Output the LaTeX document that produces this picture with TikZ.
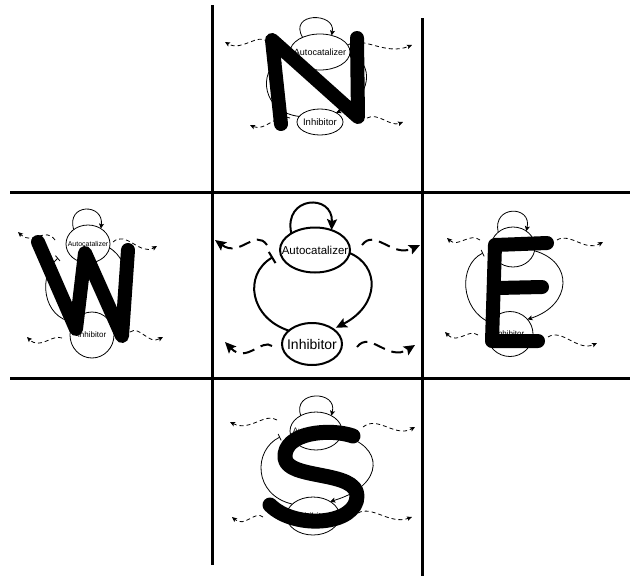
\documentclass[tikz,border=0pt]{standalone}
\usepackage{fontspec}
\setmainfont{Liberation Sans}
\usetikzlibrary{arrows.meta,shapes.geometric}
\newcommand\wavearrow[6]{\coordinate (#1s) at #3; \coordinate (#1e) at #6; \draw[#2] (#1s) .. controls #4 and #5 .. (#1e);}
\newcommand\fs[1]{\fontsize{#1}{#1}\selectfont}
\begin{document}
\begin{tikzpicture}[x=1pt,y=-1pt,
  gridline/.style={line width=3pt},
  bell/.style={draw, ellipse, line width=2pt, inner sep=0pt, outer sep=0pt},
  sell/.style={draw, ellipse, line width=0.8pt, inner sep=0pt, outer sep=0pt},
  bact/.style={line width=2pt, -{Stealth[length=11pt,width=10pt,inset=2pt]}},
  binh/.style={line width=2pt, -{Bar[width=13pt]}},
  bwave/.style={line width=2pt, dash pattern=on 12pt off 7pt, -{Stealth[length=11pt,width=10pt,inset=2pt]}},
  sact/.style={line width=0.8pt, -{Stealth[length=5pt,width=5pt,inset=1pt]}},
  sinh/.style={line width=0.8pt, -{Bar[width=7pt]}},
  swave/.style={line width=0.8pt, dash pattern=on 4pt off 3pt, -{Stealth[length=5pt,width=4.5pt,inset=1pt]}},
  letter/.style={line width=14pt, line cap=round, line join=round}]
\useasboundingbox (0,0) rectangle (634,576);
% grid
\draw[gridline] (212,5) -- (212,565);
\draw[gridline] (422,18) -- (422,576);
\draw[gridline] (10,192) -- (630,192);
\draw[gridline] (10,378) -- (630,378);

% ===== centre cell =====
\node[bell, minimum width=70pt, minimum height=45pt] (cA) at (315,250) {\fs{11.5}\makebox[0pt]{Autocatalizer}};
\node[bell, minimum width=60pt, minimum height=42pt] (cI) at (312,344) {\fs{14}\makebox[0pt]{Inhibitor}};
\coordinate (cbar) at (273,257);
\draw[bact] (cA.145) .. controls (283,196) and (333,193) .. (cA.50);
\draw[bact, shorten >=3pt] (cA.-5) .. controls (380,266) and (380,305) .. (cI.35);
\draw[binh] (cI.150) .. controls (250,318) and (243,275) .. (cbar);
\wavearrow{cw1}{bwave}{(267,245)}{(255,228)}{(240,258)}{(215,240)}
\wavearrow{cw2}{bwave}{(362,245)}{(375,228)}{(392,258)}{(420,245)}
\wavearrow{cw3}{bwave}{(272,346)}{(262,338)}{(246,364)}{(225,342)}
\wavearrow{cw4}{bwave}{(357,347)}{(370,330)}{(388,362)}{(415,345)}

% ===== N cell =====
\node[sell, minimum width=60pt, minimum height=36pt] (nA) at (320,52) {\fs{9}\makebox[0pt]{Autocatalizer}};
\node[sell, minimum width=46pt, minimum height=26pt] (nI) at (320,122) {\fs{9.5}\makebox[0pt]{Inhibitor}};
\coordinate (nbar) at (280,60);
\draw[sact] (nA.140) .. controls (288,12) and (336,12) .. (nA.55);
\draw[sact] (nA.-5) .. controls (375,62) and (372,98) .. (nI.30);
\draw[sinh] (nI.165) .. controls (262,112) and (258,72) .. (nbar);
\wavearrow{nw1}{swave}{(268,42)}{(258,32)}{(242,52)}{(225,42)}
\wavearrow{nw2}{swave}{(348,45)}{(362,35)}{(385,56)}{(412,45)}
\wavearrow{nw3}{swave}{(290,118)}{(278,112)}{(265,132)}{(250,125)}
\wavearrow{nw4}{swave}{(367,118)}{(378,112)}{(390,127)}{(403,122)}

% ===== W cell =====
\node[sell, minimum width=44pt, minimum height=38pt] (wA) at (88,244) {\fs{7}\makebox[0pt]{Autocatalizer}};
\node[sell, minimum width=44pt, minimum height=46pt] (wI) at (92,335) {\fs{8}\makebox[0pt]{Inhibitor}};
\coordinate (wbar) at (58,258);
\draw[sact] (wA.135) .. controls (66,203) and (104,203) .. (wA.50);
\draw[sact] (wA.-10) .. controls (132,262) and (134,300) .. (wI.40);
\draw[sinh] (wI.145) .. controls (42,318) and (38,275) .. (wbar);
\wavearrow{ww1}{swave}{(55,240)}{(45,226)}{(33,246)}{(18,232)}
\wavearrow{ww2}{swave}{(113,242)}{(126,230)}{(140,256)}{(157,246)}
\wavearrow{ww3}{swave}{(62,338)}{(52,334)}{(40,350)}{(27,337)}
\wavearrow{ww4}{swave}{(130,332)}{(140,325)}{(148,345)}{(163,337)}

% ===== E cell =====
\node[sell, minimum width=44pt, minimum height=40pt] (eA) at (513,247) {\fs{7}\makebox[0pt]{Autocatalizer}};
\node[sell, minimum width=46pt, minimum height=45pt] (eI) at (510,334) {\fs{8}\makebox[0pt]{Inhibitor}};
\coordinate (ebar) at (483,253);
\draw[sact] (eA.135) .. controls (492,205) and (532,205) .. (eA.50);
\draw[sact] (eA.-10) .. controls (574,262) and (572,305) .. (eI.40);
\draw[sinh] (eI.150) .. controls (460,310) and (458,265) .. (ebar);
\wavearrow{ew1}{swave}{(480,240)}{(470,232)}{(458,248)}{(447,238)}
\wavearrow{ew2}{swave}{(557,240)}{(570,232)}{(585,252)}{(603,242)}
\wavearrow{ew3}{swave}{(478,335)}{(468,328)}{(458,345)}{(445,332)}
\wavearrow{ew4}{swave}{(548,337)}{(562,328)}{(578,352)}{(597,343)}

% ===== S cell =====
\node[sell, minimum width=52pt, minimum height=38pt] (sA) at (316,431) {\fs{8}\makebox[0pt]{Autocatalizer}};
\node[sell, minimum width=53pt, minimum height=38pt] (sI) at (313,516) {\fs{9}\makebox[0pt]{Inhibitor}};
\coordinate (sbar) at (280,437);
\draw[sact] (sA.135) .. controls (292,390) and (338,390) .. (sA.45);
\draw[sact] (sA.-10) .. controls (384,445) and (386,485) .. (sI.40);
\draw[sinh] (sI.150) .. controls (253,495) and (253,450) .. (sbar);
\wavearrow{sw1}{swave}{(277,420)}{(265,412)}{(250,432)}{(230,422)}
\wavearrow{sw2}{swave}{(363,427)}{(378,415)}{(395,438)}{(415,427)}
\wavearrow{sw3}{swave}{(263,517)}{(255,510)}{(245,528)}{(232,517)}
\wavearrow{sw4}{swave}{(358,513)}{(372,505)}{(390,525)}{(412,517)}

% ===== big letters =====
\draw[letter] (281,124) -- (272,40) -- (358,117) -- (357,38);
\draw[letter] (38,242) -- (76,329) -- (85,253) -- (122,336) -- (128,250);
\draw[letter] (547,243) -- (495,245) -- (492,341) -- (538,341);
\draw[letter] (497,288) -- (542,287);
\draw[letter, line width=15pt] (353,436) .. controls (330,428) and (283,432) .. (285,458)
  .. controls (287,480) and (357,470) .. (357,496)
  .. controls (357,525) and (295,530) .. (270,505);
\end{tikzpicture}
\end{document}
